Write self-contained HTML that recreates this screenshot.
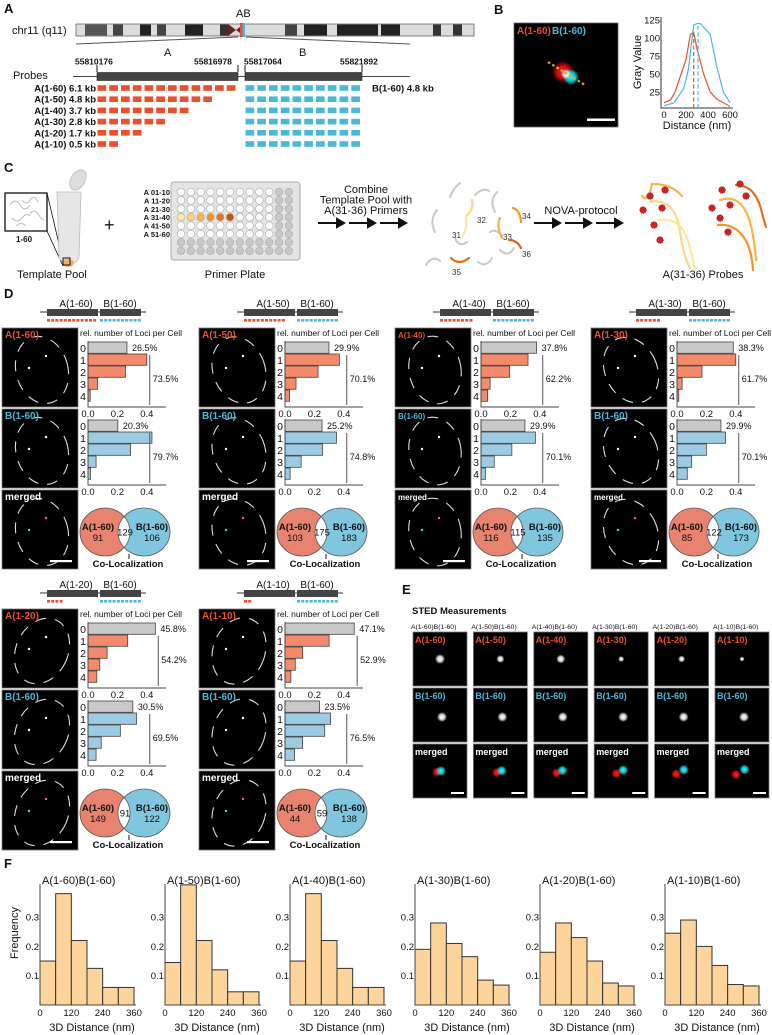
<!DOCTYPE html>
<html><head><meta charset="utf-8"><title>Figure</title>
<style>
html,body{margin:0;padding:0;background:#fff;}
svg{display:block;font-family:"Liberation Sans",Arial,sans-serif;}
</style></head>
<body>
<svg id="fig" width="772" height="1035" viewBox="0 0 772 1035" xmlns="http://www.w3.org/2000/svg">
<defs>
<radialGradient id="gw"><stop offset="0" stop-color="#fff"/><stop offset="0.5" stop-color="#eee" stop-opacity="0.9"/><stop offset="1" stop-color="#fff" stop-opacity="0"/></radialGradient>
<radialGradient id="gr"><stop offset="0" stop-color="#ff2020"/><stop offset="0.55" stop-color="#e01010" stop-opacity="0.9"/><stop offset="1" stop-color="#f00" stop-opacity="0"/></radialGradient>
<radialGradient id="gc"><stop offset="0" stop-color="#40ffff"/><stop offset="0.55" stop-color="#10d0e0" stop-opacity="0.9"/><stop offset="1" stop-color="#0ff" stop-opacity="0"/></radialGradient>
</defs>
</svg>
<script>
// ---------- DATA ----------
const profileX    = [0, 60, 100, 200, 240, 270, 300, 360, 420, 480, 600];
const profileRed  = [10, 14, 25, 70, 105, 108, 85, 50, 25, 15, 5];
const profileXB   = [0, 90, 180, 220, 270, 300, 330, 420, 480, 540, 600];
const profileBlue = [6, 10, 30, 55, 118, 120, 120, 105, 60, 25, 10];
const peakRed = 270;
const peakBlue = 310;
const profileYTicks = [25, 50, 75, 100, 125];
const profileXTicks = [0, 200, 400, 600];

const dNames = ['A(1-60)','A(1-50)','A(1-40)','A(1-30)','A(1-20)','A(1-10)'];
const lociA1 = [0.265, 0.40, 0.255, 0.065, 0.015];
const lociA2 = [0.299, 0.37, 0.225, 0.075, 0.031];
const lociA3 = [0.378, 0.32, 0.195, 0.062, 0.045];
const lociA4 = [0.383, 0.40, 0.17, 0.035, 0.012];
const lociA5 = [0.458, 0.27, 0.13, 0.08, 0.06];
const lociA6 = [0.471, 0.30, 0.12, 0.07, 0.04];
const lociB1 = [0.203, 0.435, 0.29, 0.055, 0.017];
const lociB2 = [0.252, 0.35, 0.255, 0.11, 0.035];
const lociB3 = [0.299, 0.37, 0.21, 0.09, 0.03];
const lociB4 = [0.299, 0.33, 0.20, 0.10, 0.07];
const lociB5 = [0.305, 0.33, 0.22, 0.09, 0.055];
const lociB6 = [0.235, 0.31, 0.27, 0.12, 0.065];
const zeroPctA = ['26.5%','29.9%','37.8%','38.3%','45.8%','47.1%'];
const restPctA = ['73.5%','70.1%','62.2%','61.7%','54.2%','52.9%'];
const zeroPctB = ['20.3%','25.2%','29.9%','29.9%','30.5%','23.5%'];
const restPctB = ['79.7%','74.8%','70.1%','70.1%','69.5%','76.5%'];
const lociCats = ['0','1','2','3','4'];
const lociTicks = [0.0, 0.2, 0.4];
const vennA  = [91, 103, 116, 85, 149, 44];
const vennAB = [129, 175, 115, 122, 91, 59];
const vennB  = [106, 183, 135, 173, 122, 138];
const probeCounts = [12, 10, 8, 6, 4, 2];

const histEdges = [0, 60, 120, 180, 240, 300, 360];
const hist1 = [0.15, 0.38, 0.22, 0.125, 0.06, 0.06];
const hist2 = [0.145, 0.41, 0.22, 0.12, 0.045, 0.045];
const hist3 = [0.15, 0.38, 0.22, 0.125, 0.06, 0.06];
const hist4 = [0.19, 0.28, 0.21, 0.165, 0.085, 0.068];
const hist5 = [0.18, 0.28, 0.23, 0.15, 0.075, 0.065];
const hist6 = [0.245, 0.29, 0.20, 0.135, 0.07, 0.065];
const histXTicks = [0, 120, 240, 360];
const histYTicks = [0.1, 0.2, 0.3];
const histTitles = ['A(1-60)B(1-60)','A(1-50)B(1-60)','A(1-40)B(1-60)','A(1-30)B(1-60)','A(1-20)B(1-60)','A(1-10)B(1-60)'];

// ---------- HELPERS ----------
const NS = 'http://www.w3.org/2000/svg';
const svg = document.getElementById('fig');
function mk(tag, a, p){ const e = document.createElementNS(NS, tag); for (const k in a) e.setAttribute(k, a[k]); (p || svg).appendChild(e); return e; }
function txt(x, y, s, a, p){ const e = mk('text', Object.assign({x: x, y: y, fill: '#111'}, a || {}), p); e.textContent = s; return e; }
const RED = '#e8502e', BLUE = '#4cb8d8';

// ---------- PANEL LABELS ----------
[['A',4,13],['B',494,14],['C',4,172],['D',4,298],['E',402,594],['F',4,868]].forEach(function(l){
  const t = txt(l[1], l[2], l[0], {'font-size': 13, 'font-weight': 'bold'});
  
  
});

// ---------- PANEL A ----------
(function(){
  const g = mk('g', {});
  
  
  const l = txt(12, 34, 'chr11 (q11)', {'font-size': 11}, g);
  
  
  const chr = mk('rect', {x: 76, y: 24, width: 398, height: 12, fill: '#dcdcdc', stroke: '#666', 'stroke-width': 0.8}, g);
  
  
  const bands = [[85,107,'#555'],[113,123,'#444'],[140,151,'#222'],[157,166,'#444'],[185,203,'#222'],[220,229,'#333'],[285,297,'#444'],[304,327,'#222'],[337,378,'#222'],[381,400,'#222'],[433,441,'#333'],[453,462,'#333']];
  bands.forEach(function(b){
    const r = mk('rect', {x: b[0], y: 24.5, width: b[1]-b[0], height: 11, fill: b[2]}, g);
    
    
  });
  const cen = mk('path', {d: 'M228,24 L236,30 L228,36 Z M244,24 L236,30 L244,36 Z', fill: '#6b2020'}, g);
  
  
  const mA = mk('rect', {x: 240, y: 23, width: 2.5, height: 14, fill: RED}, g);
  
  
  const mB = mk('rect', {x: 242.5, y: 23, width: 2.5, height: 14, fill: BLUE}, g);
  
  
  const ab = txt(236, 17, 'AB', {'font-size': 11}, g);
  
  
  const z1 = mk('line', {x1: 76, y1: 44, x2: 238, y2: 37, stroke: '#555', 'stroke-width': 1}, g);
  
  
  const z2 = mk('line', {x1: 246, y1: 37, x2: 410, y2: 44, stroke: '#555', 'stroke-width': 1}, g);
  
  
  const la = txt(164, 56, 'A', {'font-size': 11}, g);
  
  
  const lb = txt(299, 56, 'B', {'font-size': 11}, g);
  
  
  [['55810176',75],['55816978',194],['55817064',244],['55821892',340]].forEach(function(c){
    const t = txt(c[1], 64.5, c[0], {'font-size': 8.5, 'font-weight': 'bold'}, g);
    
    
  });
  [97,238,245,362].forEach(function(x){
    const t = mk('line', {x1: x, y1: 65, x2: x, y2: 72, stroke: '#111', 'stroke-width': 1}, g);
    
    
  });
  const pl = txt(13, 79, 'Probes', {'font-size': 11}, g);
  
  
  const bl = mk('line', {x1: 73, y1: 76.5, x2: 410, y2: 76.5, stroke: '#444', 'stroke-width': 1}, g);
  
  
  const ga = mk('rect', {x: 97, y: 72.5, width: 141, height: 8, fill: '#444', stroke: '#222', 'stroke-width': 0.6}, g);
  
  
  const gb = mk('rect', {x: 245, y: 72.5, width: 117, height: 8, fill: '#444', stroke: '#222', 'stroke-width': 0.6}, g);
  
  
  const sizes = ['6.1 kb','4.8 kb','3.7 kb','2.8 kb','1.7 kb','0.5 kb'];
  for (let r = 0; r < 6; r++){
    const yc = 88 + r * 11.2;
    const t = txt(96, yc + 3.5, dNames[r] + ' ' + sizes[r], {'font-size': 9.5, 'font-weight': 'bold', 'text-anchor': 'end'}, g);
    
    
    for (let k = 0; k < probeCounts[r]; k++){
      const d = mk('rect', {x: 97.5 + k * 11.75, y: yc - 2.8, width: 8.7, height: 5.6, fill: RED}, g);
      
      
    }
    for (let k = 0; k < 10; k++){
      const d = mk('rect', {x: 245.5 + k * 11.75, y: yc - 2.8, width: 8.7, height: 5.6, fill: BLUE}, g);
      
      
    }
  }
  const b6 = txt(372, 91.5, 'B(1-60) 4.8 kb', {'font-size': 9.5, 'font-weight': 'bold'}, g);
  
  
})();

// ---------- PANEL B ----------
(function(){
  const g = mk('g', {});
  
  
  const im = mk('rect', {x: 514, y: 23, width: 104, height: 104, fill: '#000', stroke: '#666', 'stroke-width': 0.8}, g);
  
  
  const s1 = mk('circle', {cx: 563, cy: 72, r: 11, fill: 'url(#gr)'}, g);
  
  
  const s2 = mk('circle', {cx: 571, cy: 77, r: 8, fill: 'url(#gc)'}, g);
  
  
  const s3 = mk('circle', {cx: 566, cy: 74, r: 5, fill: 'url(#gw)'}, g);
  
  
  const ln = mk('line', {x1: 548, y1: 62, x2: 585, y2: 85, stroke: '#f5a020', 'stroke-width': 2.2, 'stroke-dasharray': '2.5 2.5'}, g);
  
  
  const ta = txt(517, 34, 'A(1-60)', {'font-size': 10, 'font-weight': 'bold', fill: RED}, g);
  
  
  const tb = txt(552, 34, 'B(1-60)', {'font-size': 10, 'font-weight': 'bold', fill: BLUE}, g);
  
  
  const sb = mk('rect', {x: 587, y: 118.5, width: 28, height: 2.5, fill: '#fff'}, g);
  
  

  const xB = function(v){ return 664 + v * 66 / 600; };
  const yB = function(v){ return 110 - v * 0.72; };
  const ax = mk('path', {d: 'M661,17 V108 H733', fill: 'none', stroke: '#333', 'stroke-width': 1}, g);
  
  
  profileYTicks.forEach(function(v){
    const t = txt(660, yB(v) + 3.3, String(v), {'font-size': 9.5, 'text-anchor': 'end'}, g);
    
    
  });
  profileXTicks.forEach(function(v){
    const t = txt(xB(v), 118, String(v), {'font-size': 9.5, 'text-anchor': 'middle'}, g);
    
    
  });
  const yt = txt(0, 0, 'Gray Value', {'font-size': 11, 'text-anchor': 'middle', transform: 'translate(641,62) rotate(-90)'}, g);
  
  
  const xt = txt(697, 129, 'Distance (nm)', {'font-size': 11, 'text-anchor': 'middle'}, g);
  
  
  const pr = mk('polyline', {points: profileX.map(function(v, i){ return xB(v) + ',' + yB(profileRed[i]); }).join(' '), fill: 'none', stroke: RED, 'stroke-width': 1.2}, g);
  
  
  const pb = mk('polyline', {points: profileXB.map(function(v, i){ return xB(v) + ',' + yB(profileBlue[i]); }).join(' '), fill: 'none', stroke: BLUE, 'stroke-width': 1.2}, g);
  
  
  const dr = mk('line', {x1: xB(peakRed), y1: 108, x2: xB(peakRed), y2: yB(108), stroke: RED, 'stroke-width': 1.2, 'stroke-dasharray': '4 2.5'}, g);
  
  
  const db = mk('line', {x1: xB(peakBlue), y1: 108, x2: xB(peakBlue), y2: yB(120), stroke: BLUE, 'stroke-width': 1.2, 'stroke-dasharray': '4 2.5'}, g);
  
  
})();

// ---------- PANEL C ----------
(function(){
  const g = mk('g', {});
  
  
  const box = mk('rect', {x: 5, y: 193, width: 42, height: 38, fill: '#fff', stroke: '#111', 'stroke-width': 1.3}, g);
  
  
  ['M10,205 q5,-8 10,0 t10,0','M22,200 q4,6 8,0 t8,2','M12,218 q5,6 10,0 t8,-2','M30,214 q4,-6 8,0 t6,6','M16,226 q5,-5 10,0'].forEach(function(d){
    const p = mk('path', {d: d, fill: 'none', stroke: '#bbb', 'stroke-width': 1}, g);
    
    
  });
  const n = txt(16, 242, '1-60', {'font-size': 8, 'font-weight': 'bold'}, g);
  
  
  const l1 = mk('path', {d: 'M47,193 L63,261 M47,231 L63,266', stroke: '#111', 'stroke-width': 0.8, fill: 'none'}, g);
  
  
  const tube = mk('path', {d: 'M57,192 L81,192 L79,258 Q69,272 59,258 Z', fill: '#e6e6e6', stroke: '#bbb', 'stroke-width': 0.8}, g);
  
  
  const lid = mk('ellipse', {cx: 78, cy: 180, rx: 7, ry: 11, transform: 'rotate(30 78 180)', fill: '#ddd', stroke: '#bbb', 'stroke-width': 0.8}, g);
  
  
  const liq = mk('ellipse', {cx: 68, cy: 263, rx: 6, ry: 4, fill: '#f5b06a'}, g);
  
  
  const sq = mk('rect', {x: 63, y: 258, width: 7, height: 7, fill: 'none', stroke: '#111', 'stroke-width': 1}, g);
  
  
  const plus = txt(104, 231, '+', {'font-size': 18}, g);
  
  
  const tp = txt(52, 278, 'Template Pool', {'font-size': 11, 'text-anchor': 'middle'}, g);
  
  

  const plate = mk('rect', {x: 171, y: 182, width: 129, height: 78, rx: 3, fill: '#e4e4e4', stroke: '#aaa', 'stroke-width': 1}, g);
  
  
  const wellCols = ['#fdeaa8','#fbd27a','#f9b347','#f59421','#e8741a','#c85210'];
  for (let j = 0; j < 8; j++){
    for (let i = 0; i < 12; i++){
      let fill = '#fff';
      if (i >= 10 || j >= 6) fill = '#c8c8c8';
      if (j === 3 && i < 6) fill = wellCols[i];
      const w = mk('circle', {cx: 181 + i * 9.8, cy: 192 + j * 8.4, r: 3.8, fill: fill, stroke: '#aaa', 'stroke-width': 0.6}, g);
      
      
    }
  }
  ['A 01-10','A 11-20','A 21-30','A 31-40','A 41-50','A 51-60'].forEach(function(s, j){
    const t = txt(170, 195 + j * 8.4, s, {'font-size': 7.5, 'font-weight': 'bold', 'text-anchor': 'end'}, g);
    
    
  });
  const pp = txt(235, 278, 'Primer Plate', {'font-size': 11, 'text-anchor': 'middle'}, g);
  
  
  ['Combine','Template Pool with','A(31-36) Primers'].forEach(function(s, k){
    const t = txt(366, 193 + k * 10.5, s, {'font-size': 11, 'text-anchor': 'middle'}, g);
    
    
  });
  function arrows(x0){
    for (let k = 0; k < 3; k++){
      const x = x0 + k * 31;
      const a = mk('path', {d: 'M' + x + ',223 h21 M' + (x + 19) + ',219 l7,4 l-7,4 z', stroke: '#111', 'stroke-width': 2, fill: '#111'}, g);
      
      
    }
  }
  arrows(318);
  arrows(534);
  const strands = ['M450,197 q4,-10 10,-14','M475,195 q8,-8 14,-4','M435,232 q-6,-12 2,-22','M455,238 q4,10 12,4','M495,212 q-6,-12 2,-20','M500,250 q8,8 14,-2','M426,265 q6,-10 14,-4','M478,262 q8,6 14,-4','M490,232 q6,-4 12,4'];
  strands.forEach(function(d){
    const p = mk('path', {d: d, fill: 'none', stroke: '#c8c8c8', 'stroke-width': 2, 'stroke-linecap': 'round'}, g);
    
    
  });
  const labeled = [['M466,218 q2,10 -4,18','#fde7a0','31',452,238],['M472,200 q2,10 -6,16','#fcd68a','32',477,223],['M500,218 q-4,8 2,20','#f9b347','33',503,240],['M513,208 q7,2 8,14','#f59421','34',522,219],['M509,240 q8,0 12,8','#d8611a','36',522,257],['M451,258 q8,8 18,0','#e0701a','35',452,275]];
  labeled.forEach(function(s){
    const p = mk('path', {d: s[0], fill: 'none', stroke: s[1], 'stroke-width': 2.2, 'stroke-linecap': 'round'}, g);
    
    
    const t = txt(s[3], s[4], s[2], {'font-size': 8, fill: '#333'}, g);
    
    
  });
  const nv = txt(581, 214, 'NOVA-protocol', {'font-size': 11, 'text-anchor': 'middle'}, g);
  
  
  const probes = [['M650,202 q25,-5 30,30 q4,26 10,36','#fcd68a'],['M658,220 q25,-4 32,28 q4,14 5,22','#fde7a0'],['M642,196 q6,8 10,-12 q20,0 30,12','#f9b347'],['M720,200 q24,-8 32,30 q3,16 4,30','#f9b347'],['M736,185 q20,0 26,28 q2,8 4,14','#e0701a'],['M718,225 q20,-2 30,20 q4,10 5,25','#f59421']];
  probes.forEach(function(s){
    const p = mk('path', {d: s[0], fill: 'none', stroke: s[1], 'stroke-width': 2.2, 'stroke-linecap': 'round'}, g);
    
    
  });
  [[650,196],[662,208],[654,225],[665,190],[643,210],[660,240],[722,190],[730,205],[720,218],[740,184],[728,232],[712,208],[746,196]].forEach(function(c){
    const d = mk('circle', {cx: c[0], cy: c[1], r: 3.3, fill: '#d42020', stroke: '#a01010', 'stroke-width': 0.8, 'stroke-dasharray': '1 1'}, g);
    
    
  });
  const ap = txt(703, 278, 'A(31-36) Probes', {'font-size': 11, 'text-anchor': 'middle'}, g);
  
  
})();

// ---------- PANEL D ----------
const lociAAll = [lociA1, lociA2, lociA3, lociA4, lociA5, lociA6];
const lociBAll = [lociB1, lociB2, lociB3, lociB4, lociB5, lociB6];
const dOffsets = [[0,0],[197,0],[393,0],[589,0],[0,281],[197,281]];
function microImage(g, x, y, label, color, idx, merged, scale){
  const r = mk('rect', {x: x, y: y, width: 76, height: 79, fill: '#000', stroke: '#777', 'stroke-width': 0.8}, g);
  
  
  const rot = [-15, -20, -10, -25, 25, 20][idx];
  const e = mk('ellipse', {cx: x + 40, cy: y + 42, rx: 26, ry: 34, transform: 'rotate(' + rot + ' ' + (x + 40) + ' ' + (y + 42) + ')', fill: 'none', stroke: '#ddd', 'stroke-width': 1.1, 'stroke-dasharray': '11 9'}, g);
  
  
  [[44, 28], [27, 40]].forEach(function(p, k){
    const fill = merged ? (k === 0 ? '#ff6060' : '#40e0f0') : '#fff';
    const d = mk('circle', {cx: x + p[0], cy: y + p[1], r: 1.2, fill: fill}, g);
    
    
  });
  const t = txt(x + 3, y + 10, label, {'font-size': idx === 2 || (idx === 3 && merged) ? 8 : 10, 'font-weight': 'bold', fill: color}, g);
  
  
  if (scale){
    const s = mk('rect', {x: x + 48, y: y + 70, width: 22, height: 2.2, fill: '#fff'}, g);
    
    
  }
}
function lociChart(g, ox, top, vals, fill, zPct, rPct, title){
  const xs = function(v){ return ox + 88 + v * 147; };
  if (title){
    const t = txt(ox + 80, top - 6, 'rel. number of Loci per Cell', {'font-size': 8.5}, g);
    
    
  }
  vals.forEach(function(v, i){
    const y = top + i * 12;
    const b = mk('rect', {x: xs(0), y: y, width: xs(v) - xs(0), height: 11.3, fill: i === 0 ? '#c9c9c9' : fill, stroke: '#444', 'stroke-width': 0.8}, g);
    
    
    const c = txt(ox + 86, y + 10, lociCats[i], {'font-size': 10.5, 'text-anchor': 'end'}, g);
    
    
  });
  const zp = txt(xs(vals[0]) + 5, top + 9, zPct, {'font-size': 9}, g);
  
  
  const lx = xs(Math.max(0.42, vals[0] + 0.02));
  const br = mk('line', {x1: lx, y1: top + 13, x2: lx, y2: top + 63, stroke: '#555', 'stroke-width': 1}, g);
  
  
  const rp = txt(lx + 3, top + 40, rPct, {'font-size': 9}, g);
  
  
  const axy = top + 65;
  const ax = mk('path', {d: 'M' + xs(0) + ',' + (top - 1) + ' V' + axy + ' H' + (ox + 166), fill: 'none', stroke: '#444', 'stroke-width': 0.9}, g);
  
  
  lociTicks.forEach(function(v){
    const t = txt(xs(v), axy + 10, v.toFixed(1), {'font-size': 9.5, 'text-anchor': 'middle'}, g);
    
    
  });
}
dOffsets.forEach(function(o, i){
  const ox = o[0], oy = 285 + o[1];
  const g = mk('g', {});
  
  
  // header schematic
  const hl = mk('line', {x1: ox + 40, y1: oy + 27, x2: ox + 146, y2: oy + 27, stroke: '#333', 'stroke-width': 1}, g);
  
  
  const ha = mk('rect', {x: ox + 47, y: oy + 24, width: 51, height: 7, fill: '#444'}, g);
  
  
  const hb = mk('rect', {x: ox + 100, y: oy + 24, width: 41, height: 7, fill: '#444'}, g);
  
  
  const ta = txt(ox + 76, oy + 22, dNames[i], {'font-size': 10, 'text-anchor': 'middle'}, g);
  
  
  const tb = txt(ox + 120, oy + 22, 'B(1-60)', {'font-size': 10, 'text-anchor': 'middle'}, g);
  
  
  for (let k = 0; k < probeCounts[i]; k++){
    const d = mk('rect', {x: ox + 47 + k * 4.2, y: oy + 34, width: 3, height: 2.6, fill: RED}, g);
    
    
  }
  for (let k = 0; k < 10; k++){
    const d = mk('rect', {x: ox + 100 + k * 4.2, y: oy + 34, width: 3, height: 2.6, fill: BLUE}, g);
    
    
  }
  microImage(g, ox + 2, oy + 43, dNames[i], RED, i, false, false);
  microImage(g, ox + 2, oy + 124, 'B(1-60)', BLUE, i, false, false);
  microImage(g, ox + 2, oy + 205, 'merged', '#fff', i, true, true);
  lociChart(g, ox, oy + 57, lociAAll[i], '#f4896b', zeroPctA[i], restPctA[i], true);
  lociChart(g, ox, oy + 135, lociBAll[i], '#9dcbe3', zeroPctB[i], restPctB[i], false);
  // venn
  const cy = oy + 247;
  const clipId = 'vclip' + i;
  const cp = mk('clipPath', {id: clipId}, g);
  mk('ellipse', {cx: ox + 105, cy: cy, rx: 25, ry: 24}, cp);
  const vl = mk('ellipse', {cx: ox + 105, cy: cy, rx: 25, ry: 24, fill: '#e8836f'}, g);
  
  
  const vr = mk('ellipse', {cx: ox + 144, cy: cy, rx: 26, ry: 24, fill: '#7fc6de'}, g);
  
  
  const vi = mk('ellipse', {cx: ox + 144, cy: cy, rx: 26, ry: 24, fill: '#fff', 'clip-path': 'url(#' + clipId + ')'}, g);
  
  
  const s1 = mk('ellipse', {cx: ox + 105, cy: cy, rx: 25, ry: 24, fill: 'none', stroke: '#555', 'stroke-width': 0.8}, g);
  
  
  const s2 = mk('ellipse', {cx: ox + 144, cy: cy, rx: 26, ry: 24, fill: 'none', stroke: '#555', 'stroke-width': 0.8}, g);
  
  
  const la = txt(ox + 98, cy - 2, 'A(1-60)', {'font-size': 9.5, 'font-weight': 'bold', 'text-anchor': 'middle'}, g);
  
  
  const na = txt(ox + 98, cy + 9, String(vennA[i]), {'font-size': 9.5, 'text-anchor': 'middle'}, g);
  
  
  const nab = txt(ox + 125, cy + 3.5, String(vennAB[i]), {'font-size': 9.5, 'text-anchor': 'middle'}, g);
  
  
  const lb = txt(ox + 152, cy - 2, 'B(1-60)', {'font-size': 9.5, 'font-weight': 'bold', 'text-anchor': 'middle'}, g);
  
  
  const nb = txt(ox + 152, cy + 9, String(vennB[i]), {'font-size': 9.5, 'text-anchor': 'middle'}, g);
  
  
  const tk = mk('line', {x1: ox + 129, y1: cy + 22, x2: ox + 129, y2: cy + 27, stroke: '#111', 'stroke-width': 1}, g);
  
  
  const co = txt(ox + 128, cy + 35, 'Co-Localization', {'font-size': 9.5, 'font-weight': 'bold', 'text-anchor': 'middle'}, g);
  
  
});

// ---------- PANEL E ----------
(function(){
  const g = mk('g', {});
  
  
  const t = txt(412, 614, 'STED Measurements', {'font-size': 9.5, 'font-weight': 'bold'}, g);
  
  
  const sz = [5, 4, 4.5, 3, 3.5, 2.5];
  for (let k = 0; k < 6; k++){
    const x = 413 + k * 60.4;
    const ct = txt(x - 2, 629, histTitles[k], {'font-size': 6.8}, g);
    
    
    [[632, dNames[k], RED], [688, 'B(1-60)', BLUE], [744, 'merged', '#fff']].forEach(function(r, j){
      const b = mk('rect', {x: x, y: r[0], width: 54, height: 54, fill: '#000', stroke: '#777', 'stroke-width': 0.8}, g);
      
      
      const l = txt(x + 2, r[0] + 11, r[1], {'font-size': 9, 'font-weight': 'bold', fill: r[2]}, g);
      
      
      if (j < 2){
        const s = mk('circle', {cx: x + 27 + (j ? 2 : 0), cy: r[0] + 27 + (j ? 2 : 0), r: j ? 5 : sz[k], fill: 'url(#gw)'}, g);
        
        
      } else {
        const a = mk('circle', {cx: x + 24 - k * 0.6, cy: r[0] + 28 + k * 0.5, r: 5, fill: 'url(#gr)'}, g);
        
        
        const c = mk('circle', {cx: x + 28 + k * 0.3, cy: r[0] + 27 - k * 0.3, r: 5, fill: 'url(#gc)'}, g);
        
        
        const sb = mk('rect', {x: x + 38, y: r[0] + 48, width: 13, height: 2, fill: '#fff'}, g);
        
        
      }
    });
  }
})();

// ---------- PANEL F ----------
const histAll = [hist1, hist2, hist3, hist4, hist5, hist6];
histAll.forEach(function(vals, k){
  const ax0 = 40 + 125 * k;
  const xs = function(v){ return ax0 + v * 94 / 360; };
  const ys = function(v){ return 1005 - v * 293; };
  const g = mk('g', {});
  
  
  const ti = txt(ax0 + 2, 884, histTitles[k], {'font-size': 11}, g);
  
  
  vals.forEach(function(v, i){
    const b = mk('rect', {x: xs(histEdges[i]), y: ys(v), width: xs(histEdges[i + 1]) - xs(histEdges[i]), height: ys(0) - ys(v), fill: '#fdd59c', stroke: '#333', 'stroke-width': 1}, g);
    
    
  });
  const ax = mk('path', {d: 'M' + ax0 + ',884 V1005 H' + (ax0 + 96), fill: 'none', stroke: '#444', 'stroke-width': 1}, g);
  
  
  histYTicks.forEach(function(v){
    const t = txt(ax0 - 1, ys(v) + 3.5, v.toFixed(1), {'font-size': 9.5, 'text-anchor': 'end'}, g);
    
    
  });
  histXTicks.forEach(function(v){
    const t = txt(xs(v), 1016, String(v), {'font-size': 9.5, 'text-anchor': 'middle'}, g);
    
    
  });
  const xt = txt(ax0 + 52, 1031, '3D Distance (nm)', {'font-size': 11, 'text-anchor': 'middle'}, g);
  
  
});
const fy = txt(0, 0, 'Frequency', {'font-size': 11, 'text-anchor': 'middle', transform: 'translate(18,933) rotate(-90)'});


</script>
</body></html>
